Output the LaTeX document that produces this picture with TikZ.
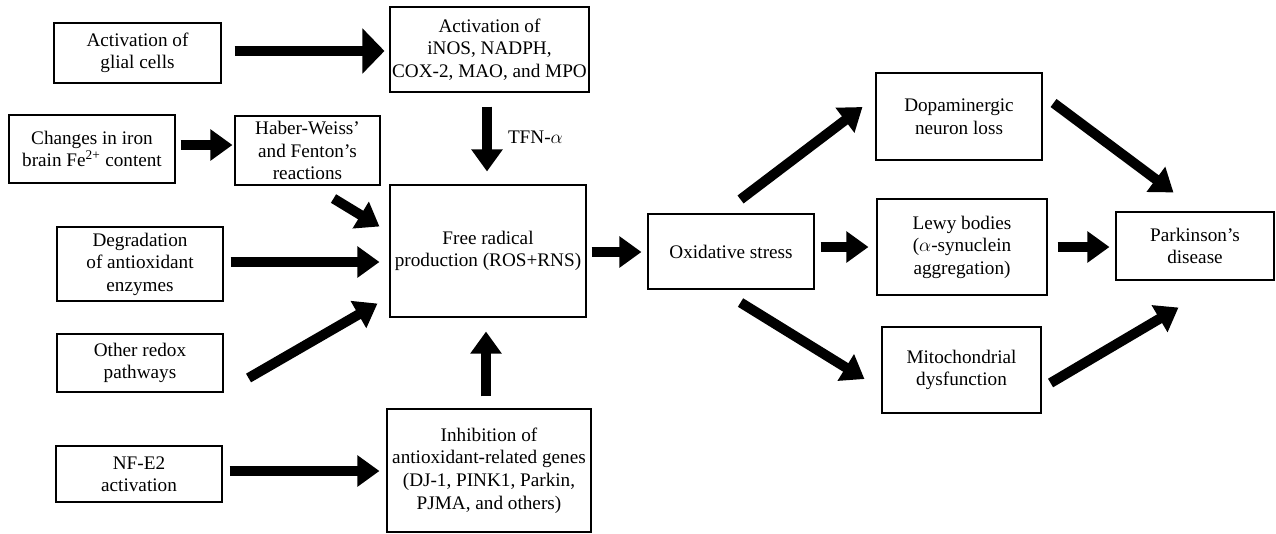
\documentclass[tikz,border=0pt]{standalone}
\usepackage{fontspec}
\setmainfont{Liberation Serif}
\usetikzlibrary{arrows.meta,calc}
\tikzset{
  box/.style={draw=black, line width=0.8pt, align=center, inner sep=0pt,
    font=\fontsize{14.4}{16.9}\selectfont},
  bigarrow/.style={line width=7.5pt, black,
    -{Triangle[length=16.5pt, width=22.5pt]}},
  hugearrow/.style={line width=7.5pt, black,
    -{Triangle[length=16.5pt, width=33pt]}},
  lbl/.style={font=\fontsize{14.4}{16.9}\selectfont, inner sep=0pt}
}
\begin{document}
\begin{tikzpicture}[x=0.75pt,y=-0.75pt]
\useasboundingbox (0,0) rectangle (1276,533);
% boxes
\node[box, minimum width=167*0.75pt, minimum height=60*0.75pt] (glial) at (137.5,53) {Activation of\\glial cells};
\node[box, minimum width=199*0.75pt, minimum height=85*0.75pt] (inos) at (489.5,49.5) {Activation of\\iNOS, NADPH,\\COX-2, MAO, and MPO};
\node[box, minimum width=166*0.75pt, minimum height=68*0.75pt] (iron) at (92,149) {Changes in iron\\brain Fe\textsuperscript{2+} content};
\node[box, minimum width=145*0.75pt, minimum height=69*0.75pt] (haber) at (307.5,150.5) {Haber-Weiss’\\and Fenton’s\\reactions};
\node[box, minimum width=196*0.75pt, minimum height=132*0.75pt] (fr) at (488,251) {Free radical\\production (ROS+RNS)};
\node[box, minimum width=166*0.75pt, minimum height=74*0.75pt] (degr) at (140,264) {Degradation\\of antioxidant\\enzymes};
\node[box, minimum width=166*0.75pt, minimum height=58*0.75pt] (other) at (140,363) {Other redox\\pathways};
\node[box, minimum width=166*0.75pt, minimum height=56*0.75pt] (nfe) at (139,474) {NF-E2\\activation};
\node[box, minimum width=204*0.75pt, minimum height=123*0.75pt] (inhib) at (489,470.5) {Inhibition of\\antioxidant-related genes\\(DJ-1, PINK1, Parkin,\\PJMA, and others)};
\node[box, minimum width=166*0.75pt, minimum height=75*0.75pt] (oxi) at (731,251.5) {Oxidative stress};
\node[box, minimum width=166*0.75pt, minimum height=87*0.75pt] (dopa) at (959,116.5) {Dopaminergic\\neuron loss};
\node[box, minimum width=170*0.75pt, minimum height=96*0.75pt] (lewy) at (962,247) {Lewy bodies\\($\alpha$-synuclein\\aggregation)};
\node[box, minimum width=159*0.75pt, minimum height=86*0.75pt] (mito) at (961.5,370) {Mitochondrial\\dysfunction};
\node[box, minimum width=158*0.75pt, minimum height=68*0.75pt] (pd) at (1195,246) {Parkinson’s\\disease};
% arrows
\draw[hugearrow] ($(glial.east)+(13,-2)$) -- ($(inos.west)+(-5,1.5)$);
\draw[bigarrow] ($(iron.east)+(5,-4)$) -- ($(haber.west)+(-2,-5.5)$);
\draw[bigarrow] ($(inos.south)+(-2.5,14)$) -- ($(fr.north)+(-1,-13)$)
  node[lbl, pos=0.47, anchor=west, xshift=12pt] (tfn) {TFN-$\alpha$};
\draw[bigarrow] ($(haber.south east)+(-47,13)$) -- ($(fr.north west)+(-10,42)$);
\draw[bigarrow] ($(degr.east)+(7,-2)$) -- ($(fr.west)+(-10,11)$);
\draw[bigarrow] ($(other.east)+(25,15)$) -- ($(fr.south west)+(-12,-14)$);
\draw[bigarrow] ($(nfe.east)+(7,-3)$) -- ($(inhib.west)+(-7,0.5)$);
\draw[bigarrow] ($(inhib.north)+(-3,-12)$) -- ($(fr.south)+(-2,14)$);
\draw[bigarrow] ($(fr.east)+(5,1)$) -- ($(oxi.west)+(-6,0.5)$);
\draw[bigarrow] ($(oxi.north east)+(-74,-14)$) -- ($(dopa.west)+(-13,-9.5)$);
\draw[bigarrow] ($(oxi.east)+(6,-4.5)$) -- ($(lewy.west)+(-8,0)$);
\draw[bigarrow] ($(oxi.south east)+(-74,13)$) -- ($(mito.west)+(-17,9)$);
\draw[bigarrow] ($(dopa.east)+(11,-13.5)$) -- ($(pd.north west)+(58,-19)$);
\draw[bigarrow] ($(lewy.east)+(10,0)$) -- ($(pd.west)+(-6,1)$);
\draw[bigarrow] ($(mito.east)+(9,13)$) -- ($(pd.south west)+(63,27)$);
\end{tikzpicture}
\end{document}
